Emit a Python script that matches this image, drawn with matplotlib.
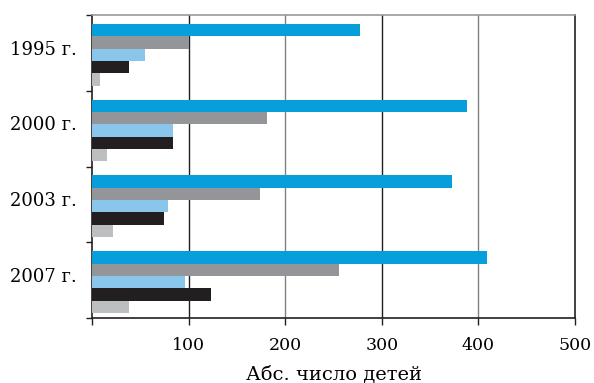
import numpy as np
import matplotlib.pyplot as plt

### data
years = ["1995 г.", "2000 г.", "2003 г.", "2007 г."]
s_blue = [277, 388, 373, 409]
s_gray = [100, 181, 174, 256]
s_lightblue = [55, 84, 79, 96]
s_black = [38, 84, 75, 123]
s_lightgray = [8, 16, 22, 38]

series = [s_blue, s_gray, s_lightblue, s_black, s_lightgray]
colors = ["#069fdc", "#939598", "#8ac6ec", "#231f20", "#bcbec0"]

plt.rcParams["font.family"] = "DejaVu Serif"

fig = plt.figure(figsize=(5.94, 3.83), dpi=100)
ax = fig.add_axes([92/594, 1-318/383, (575-92)/594, (318-15)/383])

### bars
h = 0.163
idx = np.arange(len(years))
for j, (vals, c) in enumerate(zip(series, colors)):
    y = idx - 0.5 + 0.118 + h/2 + j*h
    ax.barh(y, vals, height=h, color=c, zorder=3, linewidth=0)

### grid lines
grid_col = ["#231f20", "#808080", "#231f20", "#808080"]
for x, c in zip([100, 200, 300, 400], grid_col):
    ax.axvline(x, color=c, lw=1.0, zorder=1)

ax.set_xlim(0, 500)
ax.set_ylim(3.5, -0.5)

ax.set_xticks([0, 100, 200, 300, 400, 500])
ax.set_xticklabels(["", "100", "200", "300", "400", "500"], fontsize=12.5)
ax.tick_params(axis="x", length=5, width=1, pad=9, color="#231f20")

ax.set_yticks(idx - 0.07)
ax.set_yticklabels(years, fontsize=13)
ax.tick_params(axis="y", which="major", length=0, pad=11)
ax.set_yticks(np.arange(-0.5, 4.0, 1.0), minor=True)
ax.tick_params(axis="y", which="minor", length=4, width=1, color="#231f20")

for s in ["left", "bottom", "right"]:
    ax.spines[s].set_color("#231f20")
    ax.spines[s].set_linewidth(1.2)
ax.spines["top"].set_color("#999999")
ax.spines["top"].set_linewidth(1.2)

ax.set_xlabel("Абс. число детей", fontsize=14, labelpad=8)

fig.savefig("out.png", dpi=100)
